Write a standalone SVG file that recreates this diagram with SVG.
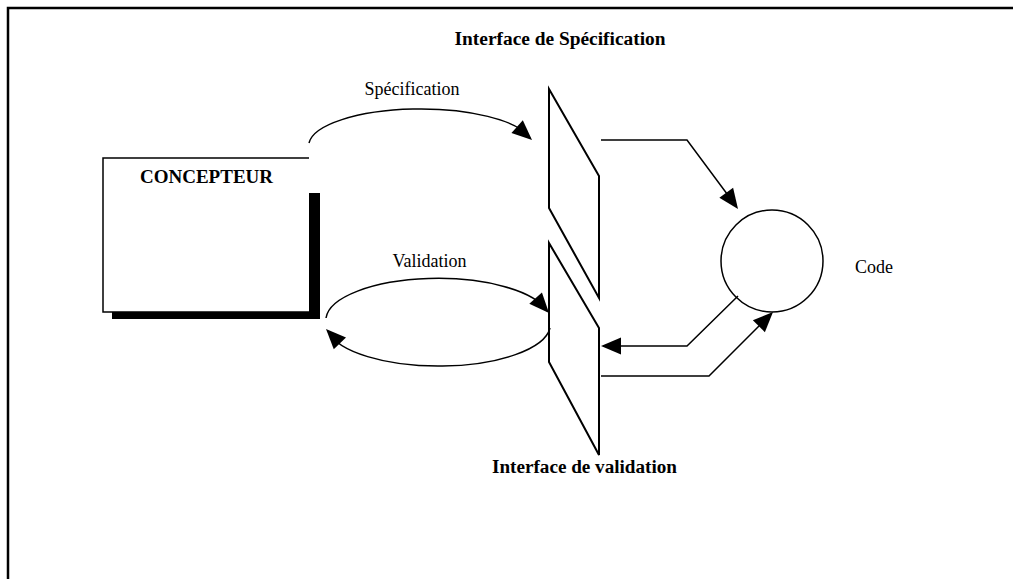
<svg xmlns="http://www.w3.org/2000/svg" xmlns:xlink="http://www.w3.org/1999/xlink" width="1013" height="579" viewBox="0 0 1013 579">
<style>
.ln{fill:none;stroke:#000;stroke-width:1.5}
.pg{fill:#fff;stroke:#000;stroke-width:2;stroke-linejoin:miter}
.t{font-family:"Liberation Serif","Times New Roman",serif;font-size:18px;fill:#000}
.b{font-weight:bold}
</style>
<defs>
<path id="ah" d="M0,0 L-20,-8.5 L-20,8.5 Z" fill="#000"/>
</defs>
<rect x="0" y="0" width="1013" height="579" fill="#fff"/>
<g id="frame">
<path d="M8,579 V8 H1013" fill="none" stroke="#000" stroke-width="2.5"/>
</g>
<g id="title">
<text class="t b" x="560" y="45" text-anchor="middle" textLength="211" lengthAdjust="spacingAndGlyphs">Interface de Spécification</text>
</g>
<g id="concepteur">
<path d="M309,193 H320 V319 H112 V312 H309 Z" fill="#000"/>
<path d="M309,158 H103 V312 H309" fill="#fff" stroke="#000" stroke-width="1.5"/>
<text class="t b" x="206.5" y="183" text-anchor="middle" textLength="133" lengthAdjust="spacingAndGlyphs">CONCEPTEUR</text>
</g>
<g id="interface-specification">
<path class="pg" d="M549,89 L599,176 V298 L549,208 Z"/>
</g>
<g id="interface-validation">
<path class="pg" d="M549,243 L599,328 V455 L549,362 Z"/>
<text class="t b" x="584.5" y="473" text-anchor="middle" textLength="185" lengthAdjust="spacingAndGlyphs">Interface de validation</text>
</g>
<g id="code">
<circle cx="772" cy="261" r="51" fill="#fff" stroke="#000" stroke-width="1.5"/>
<text class="t" x="855" y="273">Code</text>
</g>
<g id="connectors">
<path class="ln" d="M309,143 A112,37 0 0 1 530,138"/>
<use xlink:href="#ah" transform="translate(532,140) rotate(42)"/>
<text class="t" x="412" y="95" text-anchor="middle">Spécification</text>
<path class="ln" d="M326,318 A112,42 0 0 1 547,311"/>
<use xlink:href="#ah" transform="translate(549,313) rotate(48)"/>
<path class="ln" d="M550,328 A112,42 0 0 1 328,331"/>
<use xlink:href="#ah" transform="translate(326,329) rotate(226)"/>
<text class="t" x="429.5" y="267" text-anchor="middle">Validation</text>
<path class="ln" d="M601,140 H687 L736,206"/>
<use xlink:href="#ah" transform="translate(738,209) rotate(54)"/>
<path class="ln" d="M738,296 L687,346 H603"/>
<use xlink:href="#ah" transform="translate(601,346) rotate(180)"/>
<path class="ln" d="M601,376 H709 L771,314"/>
<use xlink:href="#ah" transform="translate(773,312) rotate(-45)"/>
</g>
</svg>
